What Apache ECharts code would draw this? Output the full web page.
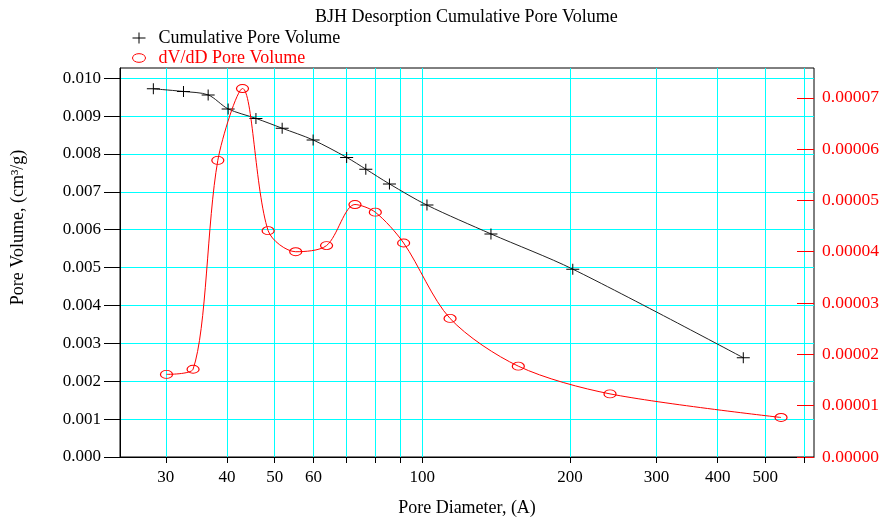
<!DOCTYPE html>
<html>
<head>
<meta charset="utf-8">
<script src="https://cdn.jsdelivr.net/npm/echarts@6/dist/echarts.min.js"></script>
<style>
  html, body { margin: 0; padding: 0; background: #fff; }
  #chart { width: 885px; height: 520px; }
</style>
</head>
<body>
<div id="chart"></div>
<script>
// BJH desorption: cumulative pore volume (left axis) and dV/dD (right axis)
const cumDiameter = [28.3, 32.6, 36.6, 40.2, 45.8, 51.8, 59.9, 70.1, 76.7, 85.7, 102.2, 138, 202.6, 451];
const cumVolume = [0.00972, 0.00965, 0.00956, 0.00919, 0.00894, 0.00868, 0.00837, 0.00791, 0.00760, 0.00721, 0.00665, 0.00589, 0.00496, 0.00262];

const dvDiameter = [30.1, 34.1, 38.3, 43.0, 48.5, 55.2, 63.8, 72.9, 80.2, 91.6, 113.9, 156.9, 241.3, 538.4];
const dvdD = [1.61e-5, 1.71e-5, 5.78e-5, 7.18e-5, 4.41e-5, 4.00e-5, 4.12e-5, 4.92e-5, 4.77e-5, 4.17e-5, 2.70e-5, 1.77e-5, 1.23e-5, 0.77e-5];

const xGridValues = [30, 40, 50, 60, 70, 80, 90, 100, 200, 300, 400, 500, 600];
const xLabelValues = [30, 40, 50, 60, 100, 200, 300, 400, 500];
const leftTicks = [0, 0.001, 0.002, 0.003, 0.004, 0.005, 0.006, 0.007, 0.008, 0.009, 0.010];
const rightTicks = [0, 0.00001, 0.00002, 0.00003, 0.00004, 0.00005, 0.00006, 0.00007];

const FONT = "'Liberation Serif', 'DejaVu Serif', serif";
const PLUS = 'path://M0,5h13v1H0z M6,0h1v11H6z';
const OVAL = 'path://M0,4a6,4 0 1,0 12,0a6,4 0 1,0 -12,0z';

const chart = echarts.init(document.getElementById('chart'), null, { renderer: 'canvas' });

chart.setOption({
  animation: false,
  backgroundColor: '#fff',
  textStyle: { fontFamily: FONT },
  title: {
    text: 'BJH Desorption Cumulative Pore Volume',
    left: 315,
    top: 8,
    padding: 0,
    textStyle: { fontFamily: FONT, fontSize: 18, fontWeight: 'normal', color: '#000' }
  },
  legend: {
    orient: 'vertical',
    left: 132,
    top: 29,
    padding: 0,
    itemGap: 2,
    itemWidth: 13,
    itemHeight: 11,
    textStyle: { fontFamily: FONT, fontSize: 18, padding: [0, 0, 0, 8] },
    data: [
      { name: 'Cumulative Pore Volume', icon: PLUS,
        itemStyle: { color: '#000' }, textStyle: { color: '#000' } },
      { name: 'dV/dD Pore Volume', icon: OVAL,
        itemStyle: { color: 'rgba(0,0,0,0)', borderColor: '#f00', borderWidth: 1 },
        textStyle: { color: '#f00' } }
    ]
  },
  grid: {
    left: 120, right: 71, top: 68, bottom: 63,
    containLabel: false,
    outerBoundsMode: 'none',
    show: true, borderColor: '#000', borderWidth: 1, backgroundColor: '#fff'
  },
  xAxis: {
    type: 'log',
    logBase: 10,
    min: 24.2,
    max: 628.5,
    name: 'Pore Diameter, (A)',
    nameLocation: 'middle',
    nameGap: 42,
    nameTextStyle: { fontFamily: FONT, fontSize: 18, color: '#000' },
    axisLine: { show: true, lineStyle: { color: '#000', width: 1 } },
    axisTick: { show: true, length: 6, customValues: xGridValues, lineStyle: { color: '#000' } },
    axisLabel: { customValues: xLabelValues, margin: 12, fontFamily: FONT, fontSize: 17, color: '#000' },
    splitLine: { show: true, lineStyle: { color: '#00ffff', width: 1 } },
    minorTick: { show: false },
    minorSplitLine: { show: false }
  },
  yAxis: [
    {
      type: 'value',
      min: 0,
      max: 0.01027,
      interval: 0.001,
      position: 'left',
      name: 'Pore Volume, (cm³/g)',
      nameLocation: 'middle',
      nameGap: 93,
      nameTextStyle: { fontFamily: FONT, fontSize: 18, color: '#000', padding: [0, 0, 0, 70] },
      axisLine: { show: true, lineStyle: { color: '#000', width: 1 } },
      axisTick: { show: true, length: 16, customValues: leftTicks, lineStyle: { color: '#000' } },
      axisLabel: { customValues: leftTicks, margin: 19, fontFamily: FONT, fontSize: 17, color: '#000',
        formatter: v => v.toFixed(3) },
      splitLine: { show: true, lineStyle: { color: '#00ffff', width: 1 } }
    },
    {
      type: 'value',
      min: 0,
      max: 0.0000758,
      interval: 0.00001,
      position: 'right',
      axisLine: { show: false },
      axisTick: { show: true, inside: true, length: 17, customValues: rightTicks,
        lineStyle: { color: '#ff0000', width: 1 } },
      axisLabel: { customValues: rightTicks, margin: 8, fontFamily: FONT, fontSize: 17.5, color: '#ff0000',
        formatter: v => v.toFixed(5) },
      splitLine: { show: false }
    }
  ],
  series: [
    {
      name: 'Cumulative Pore Volume',
      type: 'line',
      yAxisIndex: 0,
      data: cumDiameter.map((d, i) => [d, cumVolume[i]]),
      smooth: 0.3,
      symbol: PLUS,
      symbolSize: [13, 11],
      itemStyle: { color: '#000' },
      lineStyle: { color: '#222', width: 1 },
      z: 3
    },
    {
      name: 'dV/dD Pore Volume',
      type: 'line',
      yAxisIndex: 1,
      data: dvDiameter.map((d, i) => [d, dvdD[i]]),
      smooth: 0.3,
      symbol: OVAL,
      symbolSize: [12, 8],
      itemStyle: { color: 'rgba(0,0,0,0)', borderColor: '#f00', borderWidth: 1 },
      lineStyle: { color: '#f00', width: 1 },
      z: 4
    }
  ]
});
</script>
</body>
</html>
